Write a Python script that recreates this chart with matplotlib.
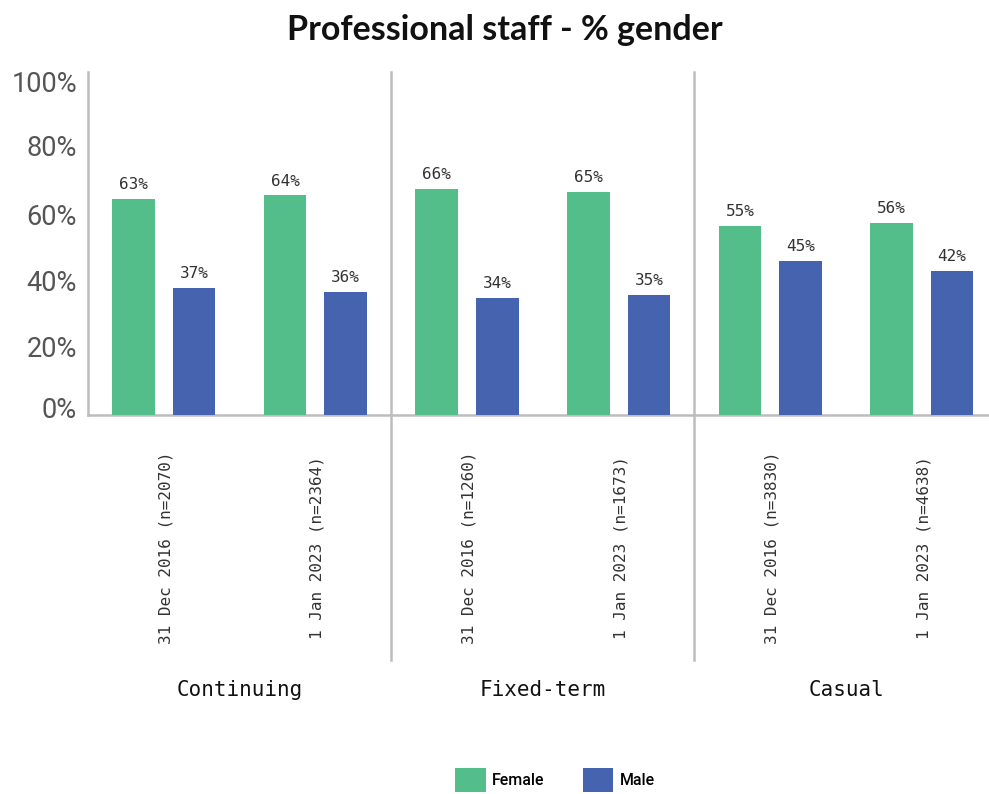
import matplotlib
matplotlib.use("Agg")
import matplotlib.pyplot as plt
import matplotlib.transforms as mtransforms
from matplotlib.patches import Patch
import numpy as np

# ---- data ----
groups = ["Continuing", "Fixed-term", "Casual"]
tick_labels = ["31 Dec 2016 (n=2070)", "1 Jan 2023 (n=2364)",
               "31 Dec 2016 (n=1260)", "1 Jan 2023 (n=1673)",
               "31 Dec 2016 (n=3830)", "1 Jan 2023 (n=4638)"]
female = [63, 64, 66, 65, 55, 56]
male = [37, 36, 34, 35, 45, 42]
series_names = ["Female", "Male"]
yticks = [0, 20, 40, 60, 80, 100]

GREEN = "#54BE8A"
BLUE = "#4563AE"
GRID = "#BDBDBD"

W, H = 989, 794
fig = plt.figure(figsize=(W / 100, H / 100), dpi=100)
fig.patch.set_facecolor("white")

ax_left, ax_bottom, ax_top = 88, 415, 72
ax = fig.add_axes([ax_left / W, 1 - ax_bottom / H, (W - ax_left) / W, (ax_bottom - ax_top) / H])

x = np.arange(len(tick_labels))
bw = 0.28
off = 0.2
b1 = ax.bar(x - off, female, width=bw, color=GREEN, label=series_names[0], zorder=3)
b2 = ax.bar(x + off, male, width=bw, color=BLUE, label=series_names[1], zorder=3)

lab_kw = dict(fontsize=11.5, family="DejaVu Sans Mono", color="#333333", padding=5)
ax.bar_label(b1, labels=[f"{v}%" for v in female], **lab_kw)
ax.bar_label(b2, labels=[f"{v}%" for v in male], **lab_kw)

ax.set_ylim(0, 100)
ax.set_xlim(-0.5, -0.5 + (W - ax_left) / 151.6)

# spines
for s in ["top", "right"]:
    ax.spines[s].set_visible(False)
for s in ["left", "bottom"]:
    ax.spines[s].set_color(GRID)
    ax.spines[s].set_linewidth(1.8)

# y ticks
ax.set_yticks(yticks)
ax.set_yticklabels([f"{v}%" for v in yticks], fontsize=19.5, family="Roboto", color="#555555")
ax.tick_params(axis="y", length=0, pad=8)
shifts_px = [8, 0, -3, -5, -5, -9]
for lab, s in zip(ax.get_yticklabels(), shifts_px):
    lab.set_transform(lab.get_transform() + mtransforms.ScaledTranslation(0, s / 100, fig.dpi_scale_trans))

# x ticks (centred around y=550 px)
ax.set_xticks(x)
ax.set_xticklabels(tick_labels, rotation=90, fontsize=11.5, family="DejaVu Sans Mono",
                   color="#333333", va="center", ha="center")
ax.tick_params(axis="x", length=0, pad=(548 - ax_bottom) * 0.72)
for lab in ax.get_xticklabels():
    lab.set_transform(lab.get_transform() + mtransforms.ScaledTranslation(2 / 100, 0, fig.dpi_scale_trans))

# group separators
bt = mtransforms.blended_transform_factory(ax.transData, ax.transAxes)
h_ax = ax_bottom - ax_top
ybot = (ax_bottom - 660) / h_ax
for xs in [1.5, 3.5]:
    ax.plot([xs, xs], [ybot, 1.0], transform=bt, color=GRID, lw=1.8, clip_on=False, zorder=1)

# group labels
ygrp = (ax_bottom - 690) / h_ax
for i, g in enumerate(groups):
    ax.text(2 * i + 0.5, ygrp, g, transform=bt, ha="center", va="center",
            fontsize=15, family="DejaVu Sans Mono", color="#111111")

# title
fig.text(505 / W, 1 - 30 / H, "Professional staff - % gender", ha="center", va="center",
         fontsize=24.5, family="Lato", fontweight="bold", color="#111111")

# legend
handles = [Patch(facecolor=GREEN, label=series_names[0]), Patch(facecolor=BLUE, label=series_names[1])]
fig.legend(handles=handles, loc="center", bbox_to_anchor=(555 / W, 1 - 780 / H), ncol=2,
           frameon=False, prop={"family": "Roboto", "size": 11.5, "weight": "medium"},
           handlelength=1.9, handleheight=1.9, handletextpad=0.4, columnspacing=2.4,
           borderpad=0, borderaxespad=0)

fig.savefig("out.png", dpi=100, facecolor="white")
